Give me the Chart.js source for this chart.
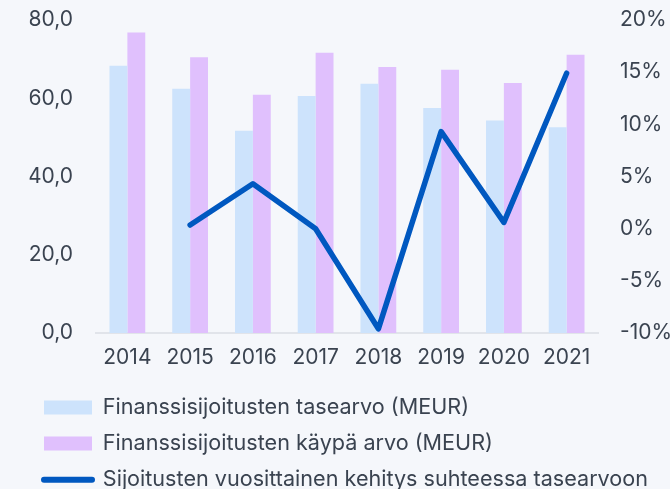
<!DOCTYPE html>
<html>
<head>
<meta charset="utf-8">
<script src="https://cdn.jsdelivr.net/npm/chart.js@4.4.1/dist/chart.umd.min.js"></script>
<style>
  html, body { margin: 0; padding: 0; background: #f5f7fb; overflow: hidden; }
  #wrap { width: 670px; height: 489px; }
</style>
</head>
<body>
<div id="wrap"><canvas id="c" width="670" height="489"></canvas></div>
<script>
const categories = ['2014', '2015', '2016', '2017', '2018', '2019', '2020', '2021'];
const tasearvo = [68.3, 62.4, 51.7, 60.6, 63.7, 57.5, 54.3, 52.6];
const kaypaArvo = [76.8, 70.5, 60.9, 71.6, 68.0, 67.3, 63.9, 71.1];
const kehitys = [null, 0.35, 4.3, 0.0, -9.6, 9.3, 0.6, 14.9];
const leftTicks = [0, 20, 40, 60, 80];
const rightTicks = [-10, -5, 0, 5, 10, 15, 20];
const seriesNames = [
  'Finanssisijoitusten tasearvo (MEUR)',
  'Finanssisijoitusten käypä arvo (MEUR)',
  'Sijoitusten vuosittainen kehitys suhteessa tasearvoon'
];

const textColor = '#3a4350';
Chart.defaults.font.family = 'Inter, Lato, sans-serif';
Chart.defaults.font.size = 21;
Chart.defaults.color = textColor;

new Chart(document.getElementById('c'), {
  data: {
    labels: categories,
    datasets: [
      {
        type: 'line',
        label: seriesNames[2],
        data: kehitys,
        yAxisID: 'y2',
        borderColor: '#0058c0',
        backgroundColor: '#0058c0',
        borderWidth: 5.5,
        borderCapStyle: 'round',
        borderJoinStyle: 'round',
        pointRadius: 0,
        tension: 0,
        order: 0
      },
      {
        type: 'bar',
        label: seriesNames[0],
        data: tasearvo,
        yAxisID: 'y',
        backgroundColor: '#cde3fc',
        borderWidth: 0,
        categoryPercentage: 0.57,
        barPercentage: 1.0,
        order: 1
      },
      {
        type: 'bar',
        label: seriesNames[1],
        data: kaypaArvo,
        yAxisID: 'y',
        backgroundColor: '#e0c0fd',
        borderWidth: 0,
        categoryPercentage: 0.57,
        barPercentage: 1.0,
        order: 1
      }
    ]
  },
  options: {
    responsive: false,
    animation: false,
    layout: { padding: { left: 29.5, right: 0, top: 20, bottom: -11.5 } },
    plugins: {
      tooltip: { enabled: false },
      legend: {
        position: 'bottom',
        align: 'start',
        labels: {
          usePointStyle: true,
          pointStyleWidth: 48,
          boxHeight: 14,
          padding: 14.5,
          color: textColor,
          font: { size: 21.6 },
          sort: (a, b) => {
            const order = [1, 2, 0];
            return order.indexOf(a.datasetIndex) - order.indexOf(b.datasetIndex);
          },
          generateLabels: (chart) => {
            const items = Chart.defaults.plugins.legend.labels.generateLabels(chart);
            items.forEach(it => {
              if (it.datasetIndex === 0) {
                it.pointStyle = 'line';
                it.lineWidth = 6;
                it.lineCap = 'round';
                it.strokeStyle = '#0058c0';
              } else {
                it.pointStyle = 'rect';
                it.lineWidth = 0;
              }
            });
            return items;
          }
        }
      }
    },
    scales: {
      x: {
        grid: { display: false, drawTicks: false },
        border: { display: true, color: '#e1e4ea', width: 2 },
        ticks: { padding: 12, color: textColor }
      },
      y: {
        position: 'left',
        min: 0,
        max: 80,
        grid: { display: false, drawTicks: false },
        border: { display: false },
        afterBuildTicks: (s) => { s.ticks = leftTicks.map(v => ({ value: v })); },
        afterFit: (s) => { s.width = 66.5; s.paddingTop = 0; s.paddingBottom = 0; },
        ticks: {
          padding: 23,
          color: textColor,
          callback: (v) => v.toFixed(1).replace('.', ',')
        }
      },
      y2: {
        position: 'right',
        min: -10,
        max: 20,
        grid: { display: false, drawTicks: false },
        border: { display: false },
        afterBuildTicks: (s) => { s.ticks = rightTicks.map(v => ({ value: v })); },
        afterFit: (s) => { s.width = 72; s.paddingTop = 0; s.paddingBottom = 0; },
        ticks: {
          padding: 22,
          color: textColor,
          callback: (v) => v + '%'
        }
      }
    }
  }
});
</script>
</body>
</html>
